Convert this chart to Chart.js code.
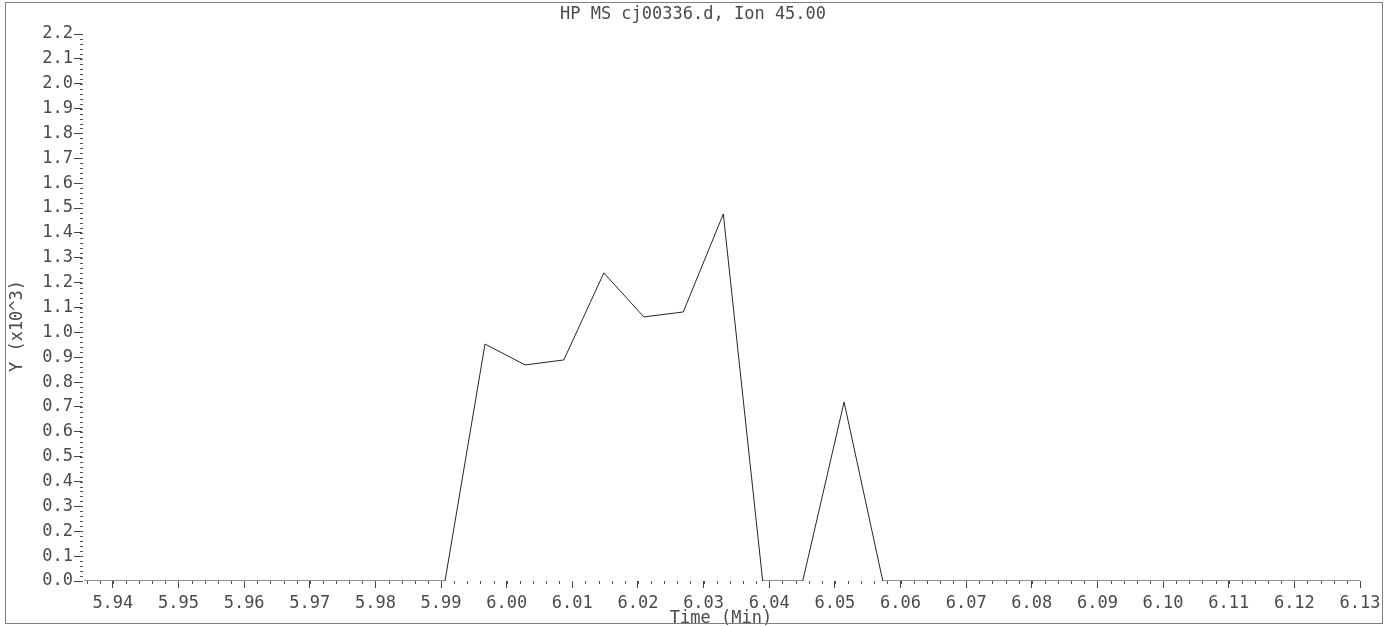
<!DOCTYPE html>
<html>
<head>
<meta charset="utf-8">
<title>HP MS cj00336.d, Ion 45.00</title>
<script src="https://cdn.jsdelivr.net/npm/chart.js@4/dist/chart.umd.min.js"></script>
<style>
    html, body { margin: 0; padding: 0; background: #fff; }
    #wrap { width: 1392px; height: 626px; }
</style>
</head>
<body>
<div id="wrap"><canvas id="ionChart" width="1392" height="626"></canvas></div>
<script>
/* Extracted ion chromatogram, ion 45.00 */

const TITLE = "HP MS cj00336.d, Ion 45.00";
const X_TITLE = "Time (Min)";
const Y_TITLE = "Y (x10^3)";

// scan times (min) and abundance (x10^3)
const scanTimes = [5.9356, 5.9417, 5.9478, 5.9539, 5.9600, 5.9661, 5.9722, 5.9783, 5.9844, 5.9906,
    5.9967, 6.0028, 6.0087, 6.0148, 6.0209, 6.0269, 6.0330, 6.0390, 6.0451, 6.0514, 6.0573,
    6.0634, 6.0695, 6.0756, 6.0817, 6.0878, 6.0939, 6.1000, 6.1061, 6.1122, 6.1183, 6.1244, 6.1305];
const abundance = [0, 0, 0, 0, 0, 0, 0, 0, 0, 0,
    0.953, 0.869, 0.889, 1.239, 1.062, 1.082, 1.476, 0, 0, 0.720, 0,
    0, 0, 0, 0, 0, 0, 0, 0, 0, 0, 0, 0];

const xTickValues = [5.94, 5.95, 5.96, 5.97, 5.98, 5.99, 6.00, 6.01, 6.02, 6.03,
    6.04, 6.05, 6.06, 6.07, 6.08, 6.09, 6.10, 6.11, 6.12, 6.13];
const xTickLabels = ["5.94", "5.95", "5.96", "5.97", "5.98", "5.99", "6.00", "6.01", "6.02", "6.03",
    "6.04", "6.05", "6.06", "6.07", "6.08", "6.09", "6.10", "6.11", "6.12", "6.13"];
const yTickValues = [0, 0.1, 0.2, 0.3, 0.4, 0.5, 0.6, 0.7, 0.8, 0.9, 1.0,
    1.1, 1.2, 1.3, 1.4, 1.5, 1.6, 1.7, 1.8, 1.9, 2.0, 2.1, 2.2];
const yTickLabels = ["0.0", "0.1", "0.2", "0.3", "0.4", "0.5", "0.6", "0.7", "0.8", "0.9", "1.0",
    "1.1", "1.2", "1.3", "1.4", "1.5", "1.6", "1.7", "1.8", "1.9", "2.0", "2.1", "2.2"];

const X_MIN = 5.9353, X_MAX = 6.13;
const Y_MIN = 0, Y_MAX = 2.2;

const FONT = "'DejaVu Sans Mono', 'Liberation Mono', monospace";
const INK = "#4a4a4a";

// frame, title, y label and minor ticks
const plotterDecor = {
    id: "plotterDecor",
    afterDraw(chart) {
        const ctx = chart.ctx;
        const xs = chart.scales.x, ys = chart.scales.y;
        const area = chart.chartArea;
        ctx.save();

        ctx.strokeStyle = "#808080";
        ctx.lineWidth = 1;
        ctx.strokeRect(5.5, 2.5, 1377, 621);

        ctx.fillStyle = INK;
        ctx.font = "17px " + FONT;
        ctx.textAlign = "center";
        ctx.textBaseline = "middle";
        ctx.fillText(TITLE, 693, 15);

        ctx.translate(18, 326);
        ctx.rotate(-Math.PI / 2);
        ctx.fillText(Y_TITLE, 0, 0);
        ctx.setTransform(1, 0, 0, 1, 0, 0);

        ctx.strokeStyle = "#555";
        ctx.beginPath();
        for (let i = 0; i <= 100; i++) {
            const v = 5.936 + i * 0.002;
            if (v > X_MAX + 1e-9) break;
            const px = Math.round(xs.getPixelForValue(v)) + 0.5;
            ctx.moveTo(px, area.bottom);
            ctx.lineTo(px, area.bottom + 3);
        }
        for (let i = 0; i <= 110; i++) {
            const v = i * 0.02;
            const py = Math.round(ys.getPixelForValue(v)) + 0.5;
            ctx.moveTo(area.left - 2, py);
            ctx.lineTo(area.left + 1, py);
        }
        ctx.stroke();
        ctx.restore();
    }
};

let ionChart;

function initChart() {
    ionChart = new Chart(document.getElementById("ionChart"), {
        type: "line",
        data: {
            datasets: [{
                label: "Ion 45.00",
                data: scanTimes.map((t, i) => ({ x: t, y: abundance[i] })),
                borderColor: "#262626",
                borderWidth: 1,
                pointRadius: 0,
                tension: 0,
                fill: false
            }]
        },
        options: {
            responsive: false,
            animation: false,
            events: [],
            layout: { padding: { top: 34, right: 32, left: 0, bottom: 0 } },
            plugins: {
                legend: { display: false },
                tooltip: { enabled: false }
            },
            scales: {
                x: {
                    type: "linear",
                    min: X_MIN,
                    max: X_MAX,
                    border: { display: false },
                    grid: { drawOnChartArea: false, drawTicks: true, tickLength: 7, color: "#444" },
                    afterBuildTicks: scale => {
                        scale.ticks = xTickValues.map(v => ({ value: v }));
                    },
                    afterFit: scale => { scale.height = 45; },
                    ticks: {
                        autoSkip: false,
                        maxRotation: 0,
                        padding: 5,
                        color: INK,
                        font: { family: FONT, size: 17 },
                        callback: (v, i) => xTickLabels[i]
                    },
                    title: {
                        display: true,
                        text: X_TITLE,
                        color: INK,
                        font: { family: FONT, size: 17 },
                        padding: { top: 0, bottom: -3 }
                    }
                },
                y: {
                    type: "linear",
                    min: Y_MIN,
                    max: Y_MAX,
                    border: { display: false },
                    grid: { drawOnChartArea: false, drawTicks: true, tickLength: 8, color: "#444" },
                    afterBuildTicks: scale => {
                        scale.ticks = yTickValues.map(v => ({ value: v }));
                    },
                    afterFit: scale => { scale.width = 82; },
                    ticks: {
                        autoSkip: false,
                        padding: 1,
                        color: INK,
                        font: { family: FONT, size: 17 },
                        callback: (v, i) => yTickLabels[i]
                    }
                }
            }
        },
        plugins: [plotterDecor]
    });
}

document.addEventListener("DOMContentLoaded", initChart);
</script>
</body>
</html>
